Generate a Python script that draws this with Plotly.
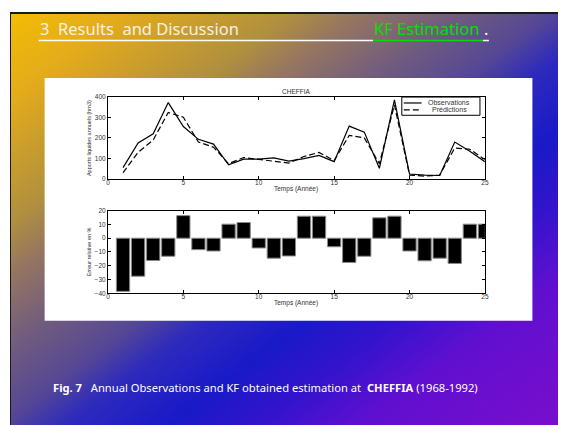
import base64, struct, zlib
import numpy as np
import plotly.graph_objects as go

# ---------------- data ----------------
years = list(range(1, 26))
observations = [56, 175, 220, 371, 255, 193, 170, 70, 97, 97, 103, 88, 100, 115, 85,
                257, 228, 53, 384, 25, 20, 18, 180, 135, 85]
predictions = [32, 130, 190, 323, 300, 180, 155, 75, 105, 95, 88, 78, 110, 130, 90,
               212, 200, 75, 360, 20, 15, 20, 151, 145, 95]
rel_error = [-38.6, -27.6, -16.2, -13.1, 16.4, -8.3, -9.3, 10.2, 11.4, -7.1, -14.5, -12.9,
             16.0, 16.0, -6.2, -17.6, -13.1, 14.8, 16.0, -9.3, -16.4, -14.5, -18.3, 10.2, 10.2]
x_ticks = [0, 5, 10, 15, 20, 25]
series_names = ["Observations", "Prédictions"]

W, H = 566, 425
OFF = 8  # page body margin

# ---------------- background gradient image ----------------
def make_bg():
    stops = [(0.0, (246, 192, 0)), (0.12, (228, 172, 28)), (0.27, (176, 144, 64)),
             (0.33, (150, 118, 98)), (0.42, (112, 92, 128)), (0.5, (86, 72, 150)),
             (0.56, (46, 42, 190)), (0.65, (26, 26, 200)), (0.73, (52, 20, 205)),
             (0.82, (96, 16, 208)), (1.0, (122, 14, 205))]
    yy, xx = np.mgrid[0:H, 0:W]
    t = ((xx + OFF) / W + (yy + OFF) / H) / 2.0
    pos = np.array([s[0] for s in stops])
    img = np.zeros((H, W, 3), dtype=np.float64)
    for c in range(3):
        img[..., c] = np.interp(t, pos, [s[1][c] for s in stops])
    img = img.astype(np.uint8)
    img[0:2, :, :] = 25
    img[:, 0:1, :] = 25
    raw = b"".join(b"\x00" + img[r].tobytes() for r in range(H))

    def chunk(tag, data):
        c = struct.pack(">I", len(data)) + tag + data
        return c + struct.pack(">I", zlib.crc32(tag + data) & 0xffffffff)

    png = b"\x89PNG\r\n\x1a\n" + chunk(b"IHDR", struct.pack(">IIBBBBB", W, H, 8, 2, 0, 0, 0)) \
        + chunk(b"IDAT", zlib.compress(raw, 9)) + chunk(b"IEND", b"")
    return "data:image/png;base64," + base64.b64encode(png).decode()

def px_x(p):
    return (p - OFF) / W

def px_y(p):
    return 1 - (p - OFF) / H

fig = go.Figure()
fig.add_trace(go.Scatter(x=years, y=observations, mode="lines", name=series_names[0],
                         line=dict(color="black", width=1.2), xaxis="x", yaxis="y"))
fig.add_trace(go.Scatter(x=years, y=predictions, mode="lines", name=series_names[1],
                         line=dict(color="black", width=1.2, dash="6px,3px"), xaxis="x", yaxis="y"))
fig.add_trace(go.Bar(x=years, y=rel_error, width=0.88,
                     marker=dict(color="black", line=dict(color="#8a8a8a", width=1)),
                     xaxis="x2", yaxis="y2"))

FONT = "Liberation Sans, Arial"
tickfont = dict(family=FONT, size=6.5, color="#333333")
axcommon = dict(showline=True, linecolor="black", linewidth=1, mirror="allticks",
                ticks="inside", ticklen=3, tickcolor="black", showgrid=False,
                zeroline=False, tickfont=tickfont)

def ann(text, x, y, size, color="#333", family=FONT, xanchor="center", angle=0):
    return dict(text=text, xref="paper", yref="paper", x=px_x(x), y=px_y(y), xanchor=xanchor,
                yanchor="middle", showarrow=False, textangle=angle,
                font=dict(family=family, size=size, color=color))

def hline(x0, x1, y, color, width, dash="solid"):
    return dict(type="line", xref="paper", yref="paper", x0=px_x(x0), x1=px_x(x1),
                y0=px_y(y), y1=px_y(y), line=dict(color=color, width=width, dash=dash))

fig.update_layout(
    width=W, height=H, margin=dict(l=0, r=0, t=0, b=0), showlegend=False,
    paper_bgcolor="white", plot_bgcolor="rgba(0,0,0,0)",
    images=[dict(source=make_bg(), xref="paper", yref="paper", x=0, y=1, sizex=1, sizey=1,
                 sizing="stretch", xanchor="left", yanchor="top", layer="below")],
    shapes=[
        dict(type="rect", xref="paper", yref="paper", x0=px_x(43), x1=px_x(536),
             y0=px_y(322), y1=px_y(75), fillcolor="white", line=dict(width=0), layer="below"),
        hline(37, 375, 37, "white", 1.5),
        hline(375, 486, 37, "#00e000", 1.5),
        hline(486, 492, 37, "white", 1.5),
        # legend box
        dict(type="rect", xref="paper", yref="paper", x0=px_x(404), x1=px_x(483),
             y0=px_y(113), y1=px_y(94.5), fillcolor="white", line=dict(color="black", width=1)),
        hline(406, 424, 100.5, "black", 1.2),
        hline(406, 424, 107.5, "black", 1.2, dash="6px,3px"),
    ],
    xaxis=dict(domain=[px_x(107), px_x(488)], range=[0, 25], tickvals=x_ticks, anchor="y",
               ticklabelstandoff=-3, **axcommon),
    yaxis=dict(domain=[px_y(178), px_y(94)], range=[0, 400], dtick=100, anchor="x", **axcommon),
    xaxis2=dict(domain=[px_x(107), px_x(488)], range=[0, 25], tickvals=x_ticks, anchor="y2",
                ticklabelstandoff=-3, **axcommon),
    yaxis2=dict(domain=[px_y(294), px_y(210)], range=[-40, 20], dtick=10, anchor="x2", **axcommon),
    annotations=[
        ann("CHEFFIA", 297, 89, 6.5),
        ann("Temps (Année)", 297, 188, 6.5),
        ann("Temps (Année)", 297, 304, 6.5),
        ann("Apports liquides annuels (hm3)", 88, 136, 5.5, angle=-90),
        ann("Erreur relative en %", 88, 252, 5.5, angle=-90),
        ann(series_names[0], 452, 100.5, 7),
        ann(series_names[1], 452, 107.5, 7),
        ann("3\u00a0\u00a0Results\u00a0\u00a0and Discussion", 36, 25, 16.5, "#f4f0e6", "Noto Sans", "left"),
        ann("KF Estimation", 374, 25, 16.5, "#00e000", "Noto Sans", "left"),
        ann(".", 485, 25, 16.5, "white", "Noto Sans", "left"),
        ann("<b>Fig. 7</b>\u00a0\u00a0 Annual Observations and KF obtained estimation at\u00a0 <b>CHEFFIA</b> (1968-1992)",
            266, 390, 11.2, "white", "Noto Sans"),
    ],
)

fig.write_html("out.html")
